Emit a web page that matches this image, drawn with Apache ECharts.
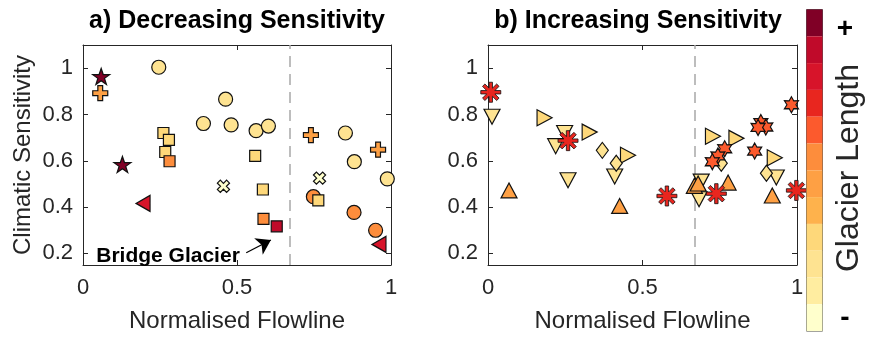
<!DOCTYPE html>
<html><head><meta charset="utf-8">
<script src="https://cdn.jsdelivr.net/npm/echarts@6/dist/echarts.min.js"></script>
<style>html,body{margin:0;padding:0;background:#fff}#c{width:872px;height:338px}</style>
</head><body><div id="c"></div><script>
// ---------- data ----------
const xTickValues = [0, 0.5, 1];
const yTickValues = [0.2, 0.4, 0.6, 0.8, 1];
const flowBoundary = 0.67;
// glacier length colour levels, 1 (short, "-") .. 12 (long, "+")
const levelColors = ['#ffffcc','#ffeda0','#fee391','#fed87a','#feb24c','#fea044',
                     '#fd8d3c','#fc5a2d','#e8261f','#d7142a','#c00a2a','#800026'];
// [normalised flowline, climatic sensitivity, glacier length level]
const aCircles = [[0.246,1.004,3],[0.463,0.866,3],[0.391,0.761,3],[0.481,0.755,3],[0.562,0.73,3],
                  [0.602,0.75,3],[0.852,0.72,3],[0.881,0.596,3],[0.988,0.522,3],
                  [0.748,0.445,7],[0.88,0.377,7],[0.95,0.30,7]];
const aSquares = [[0.261,0.72,4],[0.279,0.69,4],[0.267,0.638,4],[0.281,0.598,7],[0.559,0.621,4],
                  [0.584,0.476,4],[0.586,0.349,7],[0.629,0.317,11],[0.764,0.429,4]];
const aPluses = [[0.056,0.892,6],[0.740,0.711,6],[0.958,0.648,6]];
const aCrosses = [[0.456,0.49,1],[0.768,0.525,1]];
const aStars = [[0.059,0.964,12],[0.128,0.584,12]];
const aLeftTris = [[0.195,0.416,10],[0.961,0.239,10]];

const bDownTris = [[0.013,0.79,3],[0.248,0.72,3],[0.219,0.663,3],[0.41,0.532,3],[0.259,0.516,3],
                   [0.69,0.51,3],[0.683,0.434,3],[0.933,0.528,3]];
const bRightTris = [[0.183,0.786,4],[0.329,0.724,4],[0.453,0.624,4],[0.728,0.706,4],[0.804,0.697,4],[0.928,0.613,4]];
const bDiamonds = [[0.37,0.645,3],[0.415,0.589,3],[0.755,0.589,3],[0.901,0.546,3]];
const bUpTris = [[0.068,0.472,6],[0.426,0.405,6],[0.668,0.492,6],[0.68,0.502,6],[0.777,0.506,6],[0.92,0.45,6]];
const bHexagrams = [[0.982,0.842,8],[0.883,0.765,8],[0.899,0.746,8],[0.874,0.744,8],[0.766,0.652,8],
                    [0.863,0.642,8],[0.744,0.621,8],[0.726,0.596,8]];
const bAsterisks = [[0.009,0.896,9],[0.259,0.687,9],[0.579,0.448,9],[0.739,0.458,9],[0.998,0.472,9]];

// ---------- marker shapes ----------
function poly(pts){ return 'path://' + pts.map((p,i)=>(i?'L':'M')+p[0].toFixed(3)+','+p[1].toFixed(3)).join(' ') + ' Z'; }
function starPts(n, R, r, off){ const p=[]; for(let k=0;k<2*n;k++){ const a=(off + k*180/n)*Math.PI/180; const rr=k%2?r:R; p.push([rr*Math.cos(a), rr*Math.sin(a)]);} return p; }
const pentagram = poly(starPts(5, 10, 3.9, -90));
const hexagram = poly(starPts(6, 10, 5.6, -90));
const asterisk = (function(){ const p=[], R=10, h=1.7, d=h/Math.sin(Math.PI/8);
  for(let k=0;k<8;k++){ const t=k*Math.PI/4, c=Math.cos(t), s=Math.sin(t);
    p.push([R*c + h*s, R*s - h*c]); p.push([R*c - h*s, R*s + h*c]);
    const m=t+Math.PI/8; p.push([d*Math.cos(m), d*Math.sin(m)]); }
  return poly(p); })();
const plusPath = 'path://M3.4,0 H6.6 V3.4 H10 V6.6 H6.6 V10 H3.4 V6.6 H0 V3.4 H3.4 Z';
const downTri = 'path://M0,0 L10,0 L5,9 Z';
const upTri = 'path://M0,9 L5,0 L10,9 Z';
const rightTri = 'path://M0,0 L9,5 L0,10 Z';
const leftTri = 'path://M9,0 L0,5 L9,10 Z';

const EDGE = '#111';
function sc(data, symbol, size, xi, yi, extra){
  return Object.assign({
    type:'scatter', data, symbol, symbolSize:size, xAxisIndex:xi, yAxisIndex:yi,
    itemStyle:{borderColor:EDGE, borderWidth:1.2, opacity:1},
    emphasis:{disabled:true}, silent:true, z:3
  }, extra||{});
}
const dashLine = ()=>({silent:true, symbol:'none', label:{show:false},
  lineStyle:{color:'#a8a8a8', type:[11,7], width:1.5}, data:[{xAxis:flowBoundary}], z:1, animation:false});

const series = [
  sc(aCircles,'circle',14,0,0,{markLine:dashLine()}),
  sc(aSquares,'rect',11,0,0,{
    markLine:{silent:true, symbol:['none','arrow'], symbolSize:14, label:{show:false},
      itemStyle:{color:'#000'},
      lineStyle:{color:'#000', type:'solid', width:1.3},
      data:[[{coord:[0.53,0.203]},{coord:[0.61,0.258]}]], animation:false},
    markPoint:{silent:true, symbol:'circle', symbolSize:0,
      label:{show:true, position:[0,0], align:'left', verticalAlign:'middle', formatter:'Bridge Glacier',
        fontFamily:'Liberation Sans, Arial, sans-serif', fontWeight:'bold', fontSize:21, color:'#000'},
      data:[{coord:[0.043,0.19]}], animation:false}
  }),
  sc(aPluses, plusPath, 15, 0, 0),
  sc(aCrosses, plusPath, 13, 0, 0, {symbolRotate:45}),
  sc(aStars, pentagram, [17,16], 0, 0),
  sc(aLeftTris, leftTri, [14,16], 0, 0),
  sc(bDownTris, downTri, [16,15], 2, 2, {markLine:dashLine()}),
  sc(bRightTris, rightTri, [15,16], 2, 2),
  sc(bDiamonds, 'diamond', [12,16], 2, 2),
  sc(bUpTris, upTri, [16,15], 2, 2),
  sc(bHexagrams, hexagram, [14,16], 2, 2),
  sc(bAsterisks, asterisk, 20, 2, 2, {itemStyle:{borderColor:EDGE, borderWidth:0.8, opacity:1}})
];

const FONT = 'Liberation Sans, Arial, Helvetica, sans-serif';
const TXT = '#262626';
const lineCol = '#262626';
function xAx(grid, pos, labels, name){
  return {gridIndex:grid, type:'value', min:0, max:1, interval:0.5, position:pos,
    axisLine:{show:true, onZero:false, lineStyle:{color:lineCol, width:1}},
    axisTick:{show:true, inside:true, length:5, lineStyle:{color:lineCol}},
    axisLabel:{show:labels, fontSize:22, color:TXT, fontFamily:FONT, margin:12},
    splitLine:{show:false},
    name: name||'', nameLocation:'middle', nameGap:44,
    nameTextStyle:{fontSize:24, color:TXT, fontFamily:FONT}};
}
function yAx(grid, pos, labels, name){
  return {gridIndex:grid, type:'value', min:0.15, max:1.1, position:pos,
    axisLine:{show:true, onZero:false, lineStyle:{color:lineCol, width:1}},
    axisTick:{show:true, inside:true, length:5, lineStyle:{color:lineCol}, customValues:yTickValues},
    axisLabel:{show:labels, fontSize:22, color:TXT, fontFamily:FONT, margin:10, customValues:yTickValues},
    splitLine:{show:false},
    name: name||'', nameLocation:'middle', nameGap:48, nameRotate:90,
    nameTextStyle:{fontSize:24, color:TXT, fontFamily:FONT}};
}

const option = {
  animation:false,
  backgroundColor:'#fff',
  textStyle:{fontFamily:FONT},
  grid:[{left:83, top:45, width:308, height:222},{left:488, top:45, width:309, height:222}],
  xAxis:[xAx(0,'bottom',true,'Normalised Flowline'), xAx(0,'top',false), xAx(1,'bottom',true,'Normalised Flowline'), xAx(1,'top',false)],
  yAxis:[yAx(0,'left',true,'Climatic Sensitivity'), yAx(0,'right',false), yAx(1,'left',true), yAx(1,'right',false)],
  visualMap:{type:'piecewise', dimension:2, seriesIndex:series.map((s,i)=>i),
    pieces: levelColors.map((c,i)=>({value:i+1, color:c})),
    orient:'vertical', left:806, top:9, itemWidth:16, itemHeight:26.8, itemGap:0, itemSymbol:'rect',
    showLabel:false, text:null, padding:0, borderColor:'#555', borderWidth:1,
    selectedMode:false, hoverLink:false},
  graphic:[
    {type:'text', x:237, y:21, style:{text:'a) Decreasing Sensitivity', font:'bold 25px '+FONT, fill:'#000', textAlign:'center', textVerticalAlign:'middle'}},
    {type:'text', x:638, y:21, style:{text:'b) Increasing Sensitivity', font:'bold 25px '+FONT, fill:'#000', textAlign:'center', textVerticalAlign:'middle'}},
    {type:'text', x:845, y:29, style:{text:'+', font:'bold 28px '+FONT, fill:'#000', textAlign:'center', textVerticalAlign:'middle'}},
    {type:'text', x:845, y:318, style:{text:'-', font:'bold 28px '+FONT, fill:'#000', textAlign:'center', textVerticalAlign:'middle'}},
    {type:'text', x:849, y:168, rotation:Math.PI/2, style:{text:'Glacier Length', font:'32px '+FONT, fill:TXT, textAlign:'center', textVerticalAlign:'middle'}}
  ],
  series
};
const chart = echarts.init(document.getElementById('c'), null, {renderer:'canvas'});
chart.setOption(option);
</script></body></html>
